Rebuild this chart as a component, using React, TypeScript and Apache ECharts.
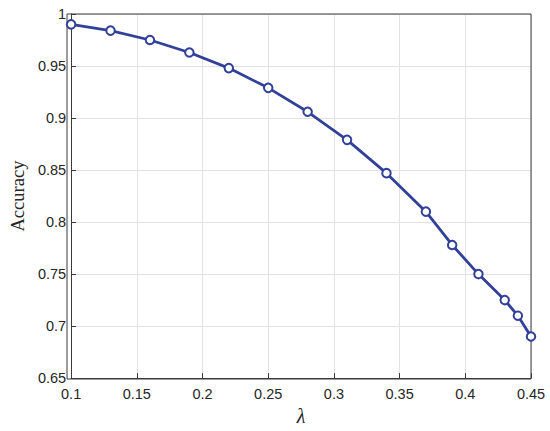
import React, { useEffect, useRef } from "react";
import * as echarts from "echarts";

const lambdas = [0.1, 0.13, 0.16, 0.19, 0.22, 0.25, 0.28, 0.31, 0.34, 0.37, 0.39, 0.41, 0.43, 0.44, 0.45];
const accuracy = [0.990, 0.984, 0.975, 0.963, 0.948, 0.929, 0.906, 0.879, 0.847, 0.810, 0.778, 0.750, 0.725, 0.710, 0.690];

const xTitle = "λ";
const yTitle = "Accuracy";

export default function App() {
  const ref = useRef<HTMLDivElement>(null);
  useEffect(() => {
    if (!ref.current) return;
    const chart = echarts.init(ref.current, null, { renderer: "svg" });
    const axisColor = "#3a3a3a";
    const labelStyle = { color: "#262626", fontSize: 14.5, fontFamily: "Liberation Sans, Arial, sans-serif" };
    chart.setOption({
      animation: false,
      backgroundColor: "#ffffff",
      grid: { left: 67, right: 19, top: 14, bottom: 52, containLabel: false, show: false },
      xAxis: {
        type: "value",
        min: 0.1,
        max: 0.45,
        interval: 0.05,
        name: xTitle,
        nameLocation: "middle",
        nameGap: 25,
        nameTextStyle: { fontSize: 20, fontStyle: "italic", fontFamily: "Liberation Serif, Times New Roman, serif", color: "#262626" },
        axisLine: { show: true, lineStyle: { color: axisColor, width: 1 } },
        axisTick: { show: true, inside: true, length: 5, lineStyle: { color: axisColor } },
        axisLabel: { ...labelStyle, margin: 8, formatter: (v: number) => String(parseFloat(v.toFixed(2))) },
        splitLine: { show: true, lineStyle: { color: "#e3e3e3", width: 1 } },
      },
      yAxis: {
        type: "value",
        min: 0.65,
        max: 1,
        interval: 0.05,
        name: yTitle,
        nameLocation: "middle",
        nameGap: 39,
        nameRotate: 90,
        nameTextStyle: { fontSize: 18.5, fontFamily: "Liberation Serif, Times New Roman, serif", color: "#262626" },
        axisLine: { show: true, lineStyle: { color: axisColor, width: 1 } },
        axisTick: { show: true, inside: true, length: 5, lineStyle: { color: axisColor } },
        axisLabel: { ...labelStyle, margin: 5, formatter: (v: number) => String(parseFloat(v.toFixed(2))) },
        splitLine: { show: true, lineStyle: { color: "#e3e3e3", width: 1 } },
      },
      graphic: [
        {
          type: "rect",
          shape: { x: 67, y: 14, width: 464, height: 365 },
          style: { fill: "none", stroke: axisColor, lineWidth: 1 },
          silent: true,
          z: 10,
        },
      ],
      series: [
        {
          type: "line",
          data: lambdas.map((x, i) => [x, accuracy[i]]),
          symbol: "emptyCircle",
          symbolSize: 8.5,
          lineStyle: { color: "#31419a", width: 2.8 },
          itemStyle: { color: "#31419a", borderColor: "#31419a", borderWidth: 2.6 },
          clip: false,
          z: 20,
        },
      ],
    });
    return () => chart.dispose();
  }, []);
  return <div ref={ref} style={{ position: "fixed", left: 0, top: 0, width: 550, height: 431 }} />;
}
